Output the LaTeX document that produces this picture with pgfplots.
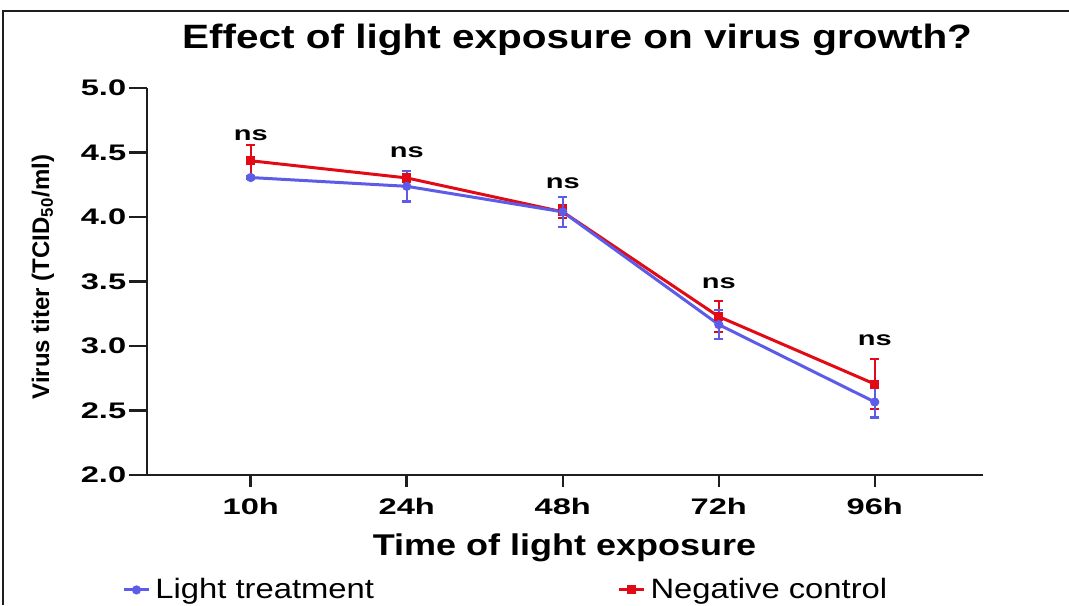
\documentclass[border=0pt]{standalone}
\usepackage{fontspec}
\setmainfont{Liberation Sans}
\newfontfamily\titlefont{Liberation Sans}[FakeStretch=1.2]
\newfontfamily\tickfont{Liberation Sans}[FakeStretch=1.45]
\newfontfamily\legfont{Liberation Sans}[FakeStretch=1.17]
\usepackage{pgfplots}
\pgfplotsset{compat=1.18}

\definecolor{lightblue}{RGB}{92,92,232}
\definecolor{ctrlred}{RGB}{226,10,20}
\definecolor{axisgray}{RGB}{30,30,30}

\begin{document}
\begin{tikzpicture}
    % page is 1069 x 605 px at 0.4pt per px
    \useasboundingbox (0,0) rectangle (427.6pt,242pt);
    \draw[line width=0.8pt, axisgray] (1.2pt,0pt) -- (1.2pt,237.6pt) -- (427.6pt,237.6pt);

    \begin{axis}[
        at={(58.8pt,52pt)}, anchor=south west,
        scale only axis,
        width=334.4pt, height=154.8pt,
        xmin=-0.665, xmax=4.694,
        ymin=2, ymax=5,
        axis lines=left,
        axis line style={-, line width=1pt, axisgray},
        tick align=outside,
        major tick length=4.8pt,
        ytick style={/pgfplots/major tick length=7.2pt},
        tick style={line width=1pt, axisgray},
        xtick={0,1,2,3,4},
        xticklabels={10h,24h,48h,72h,96h},
        ytick={2,2.5,...,5},
        /pgf/number format/assume math mode=true,
        yticklabel style={font=\tickfont\bfseries\fontsize{9}{10}\selectfont,
            /pgf/number format/fixed, /pgf/number format/fixed zerofill,
            /pgf/number format/precision=1},
        xticklabel style={font=\tickfont\bfseries\fontsize{9}{10}\selectfont, yshift=-1pt},
        title={Effect of light exposure on virus growth?},
        every axis title shift=0pt,
        title style={font=\titlefont\bfseries\fontsize{13.5}{15}\selectfont,
            at={(axis description cs:0.5144,1.124)}, anchor=center},
        xlabel={Time of light exposure},
        xlabel style={font=\titlefont\bfseries\fontsize{12}{14}\selectfont,
            at={(axis description cs:0.4994,-0.1886)}, anchor=center},
        ylabel={Virus titer (TCID\textsubscript{50}/ml)},
        ylabel style={font=\bfseries\fontsize{9.6}{11}\selectfont,
            at={(axis description cs:-0.1244,0.5116)}, anchor=center, rotate=0},
        legend columns=2,
        reverse legend,
        legend style={at={(axis description cs:-0.0299,-0.297)}, anchor=west,
            draw=none, fill=none, inner sep=0pt,
            font=\legfont\fontsize{11.2}{13}\selectfont,
            /tikz/every even column/.append style={column sep=95.4pt}},
        legend image code/.code={
            \draw[mark repeat=2, mark phase=2, #1]
                plot coordinates {(0pt,0pt) (5pt,0pt) (10pt,0pt)};},
        clip=false,
    ]

    % Negative control
    \addplot[ctrlred, line width=1.2pt, mark=square*, mark size=1.2pt,
        error bars/.cd, y dir=both, y explicit,
        error mark=-, error mark options={rotate=90, mark size=1.8pt, line width=0.9pt, ctrlred},
        error bar style={line width=0.9pt, ctrlred}]
        coordinates {
            (0, 4.436) +- (0, 0.125)
            (1, 4.303) +- (0, 0.03)
            (2, 4.040) +- (0, 0.05)
            (3, 3.228) +- (0, 0.120)
            (4, 2.705) +- (0, 0.195)
        };
    \addlegendentry{Negative control}

    % Light treatment
    \addplot[lightblue, line width=1.2pt, mark=*, mark size=1.2pt,
        error bars/.cd, y dir=both, y explicit,
        error mark=-, error mark options={rotate=90, mark size=1.8pt, line width=0.9pt, lightblue},
        error bar style={line width=0.9pt, lightblue}]
        coordinates {
            (0, 4.306) +- (0, 0.01)
            (1, 4.238) +- (0, 0.117)
            (2, 4.040) +- (0, 0.115)
            (3, 3.166) +- (0, 0.114)
            (4, 2.566) +- (0, 0.120)
        };
    \addlegendentry{Light treatment}

    % significance labels
    \addplot[draw=none, mark=none, forget plot,
        nodes near coords={ns},
        nodes near coords style={anchor=center, text=black,
            font=\tickfont\bfseries\fontsize{8}{9}\selectfont}]
        coordinates {(0,4.636) (1,4.504) (2,4.264) (3,3.488) (4,3.047)};

    \end{axis}
\end{tikzpicture}
\end{document}
